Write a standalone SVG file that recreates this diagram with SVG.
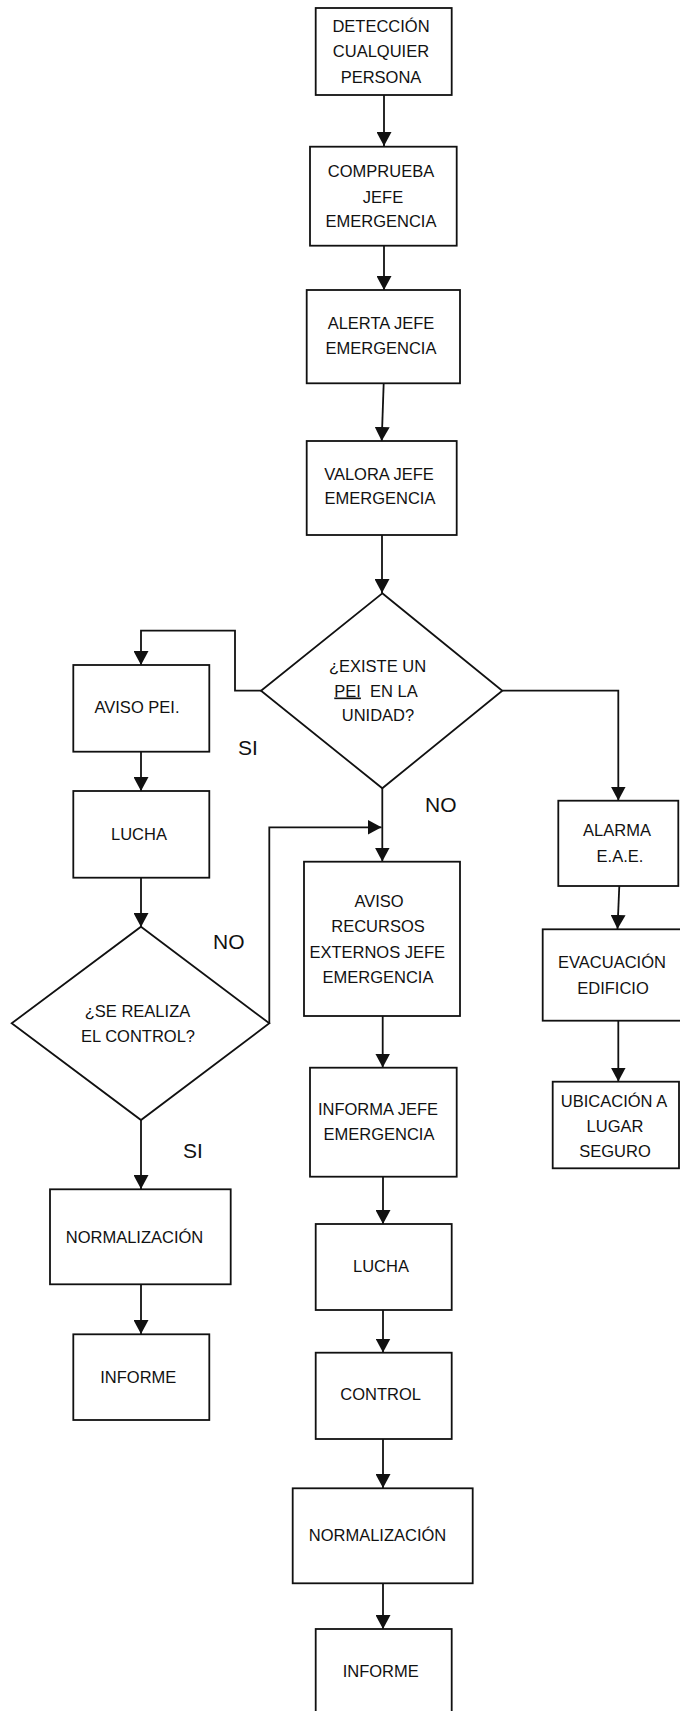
<svg xmlns="http://www.w3.org/2000/svg" width="680" height="1711" viewBox="0 0 680 1711">
<style>
.box{fill:#fff;stroke:#111;stroke-width:1.8}
.t{font-family:"Liberation Sans",Arial,sans-serif;font-size:16.5px;fill:#111;text-anchor:middle}
.lbl{font-family:"Liberation Sans",Arial,sans-serif;font-size:21px;fill:#111}
.c{fill:none;stroke:#111;stroke-width:1.8}
</style>
<defs>
<marker id="ah" markerUnits="userSpaceOnUse" markerWidth="15" markerHeight="15" refX="14" refY="7.5" orient="auto">
<path d="M0,0 L14,7.5 L0,15 z" fill="#111"/>
</marker>
</defs>
<rect width="680" height="1711" fill="#fff"/>
<g id="connectors">
<path class="c" d="M384,95 V146" marker-end="url(#ah)"/>
<path class="c" d="M384,246 V290" marker-end="url(#ah)"/>
<path class="c" d="M383.7,383 L381.7,441" marker-end="url(#ah)"/>
<path class="c" d="M382,535 V593" marker-end="url(#ah)"/>
<path class="c" d="M261,690.7 H235 V630.7 H141 V665" marker-end="url(#ah)"/>
<path class="c" d="M141,752 V791" marker-end="url(#ah)"/>
<path class="c" d="M141,878 V927" marker-end="url(#ah)"/>
<path class="c" d="M141,1120 V1189" marker-end="url(#ah)"/>
<path class="c" d="M141,1284 V1334" marker-end="url(#ah)"/>
<path class="c" d="M382.3,788 V861.5" marker-end="url(#ah)"/>
<path class="c" d="M269.3,1023.3 V827.3 H381.5" marker-end="url(#ah)"/>
<path class="c" d="M502.3,690.7 H618.3 V800.5" marker-end="url(#ah)"/>
<path class="c" d="M619.3,886 L617.5,929" marker-end="url(#ah)"/>
<path class="c" d="M618.3,1021 V1081.5" marker-end="url(#ah)"/>
<path class="c" d="M382.7,1016 V1067.5" marker-end="url(#ah)"/>
<path class="c" d="M383,1176.7 V1224" marker-end="url(#ah)"/>
<path class="c" d="M383,1310 V1352.5" marker-end="url(#ah)"/>
<path class="c" d="M383,1439 V1488" marker-end="url(#ah)"/>
<path class="c" d="M383,1583 V1629" marker-end="url(#ah)"/>
</g>
<g id="n-deteccion">
<rect class="box" x="315.7" y="8" width="136" height="87"/>
<text class="t" x="381" y="32">DETECCIÓN</text>
<text class="t" x="381" y="57">CUALQUIER</text>
<text class="t" x="381" y="83">PERSONA</text>
</g>
<g id="n-comprueba">
<rect class="box" x="310" y="146.7" width="146.7" height="99"/>
<text class="t" x="381" y="177">COMPRUEBA</text>
<text class="t" x="383" y="203">JEFE</text>
<text class="t" x="381" y="227">EMERGENCIA</text>
</g>
<g id="n-alerta">
<rect class="box" x="306.7" y="290" width="153.3" height="93.3"/>
<text class="t" x="381" y="329">ALERTA JEFE</text>
<text class="t" x="381" y="354">EMERGENCIA</text>
</g>
<g id="n-valora">
<rect class="box" x="306.7" y="441" width="150" height="94"/>
<text class="t" x="379" y="480">VALORA JEFE</text>
<text class="t" x="380" y="504">EMERGENCIA</text>
</g>
<g id="n-existe">
<polygon class="box" points="382.3,593.3 502.3,690.7 382.3,788.3 261,690.7"/>
<text class="t" x="377.5" y="672">¿EXISTE UN</text>
<text class="t" x="376" y="696.5" xml:space="preserve"><tspan text-decoration="underline">PEI</tspan>  EN LA</text>
<text class="t" x="378" y="721">UNIDAD?</text>
</g>
<g id="n-aviso-pei">
<rect class="box" x="73.3" y="665" width="136" height="86.7"/>
<text class="t" x="137" y="713">AVISO PEI.</text>
</g>
<g id="n-lucha-1">
<rect class="box" x="73.3" y="791" width="136" height="86.7"/>
<text class="t" x="139" y="840">LUCHA</text>
</g>
<g id="n-control-q">
<polygon class="box" points="141,926.7 269.3,1023.3 141,1120 11.7,1023.3"/>
<text class="t" x="137.5" y="1017">¿SE REALIZA</text>
<text class="t" x="138" y="1042">EL CONTROL?</text>
</g>
<g id="n-normalizacion-1">
<rect class="box" x="50" y="1189.3" width="180.7" height="95"/>
<text class="t" x="134.5" y="1243">NORMALIZACIÓN</text>
</g>
<g id="n-informe-1">
<rect class="box" x="73.3" y="1334.3" width="136" height="85.7"/>
<text class="t" x="138.3" y="1383">INFORME</text>
</g>
<g id="n-aviso-recursos">
<rect class="box" x="304" y="861.7" width="156" height="154.3"/>
<text class="t" x="379" y="907">AVISO</text>
<text class="t" x="378" y="932">RECURSOS</text>
<text class="t" x="377.3" y="958">EXTERNOS JEFE</text>
<text class="t" x="378" y="983">EMERGENCIA</text>
</g>
<g id="n-informa">
<rect class="box" x="310" y="1067.7" width="146.7" height="109"/>
<text class="t" x="378" y="1115">INFORMA JEFE</text>
<text class="t" x="379" y="1140">EMERGENCIA</text>
</g>
<g id="n-lucha-2">
<rect class="box" x="315.7" y="1224" width="136" height="86"/>
<text class="t" x="381" y="1272">LUCHA</text>
</g>
<g id="n-control">
<rect class="box" x="315.7" y="1352.7" width="136" height="86.3"/>
<text class="t" x="380.7" y="1400">CONTROL</text>
</g>
<g id="n-normalizacion-2">
<rect class="box" x="292.7" y="1488.3" width="180" height="95"/>
<text class="t" x="377.5" y="1541">NORMALIZACIÓN</text>
</g>
<g id="n-informe-2">
<rect class="box" x="315.7" y="1629" width="136" height="95"/>
<text class="t" x="380.7" y="1677">INFORME</text>
</g>
<g id="n-alarma">
<rect class="box" x="558.3" y="800.7" width="120" height="85.3"/>
<text class="t" x="617" y="836">ALARMA</text>
<text class="t" x="620" y="862">E.A.E.</text>
</g>
<g id="n-evacuacion">
<rect class="box" x="542.7" y="929.3" width="140" height="91.4"/>
<text class="t" x="612" y="968">EVACUACIÓN</text>
<text class="t" x="613" y="994">EDIFICIO</text>
</g>
<g id="n-ubicacion">
<rect class="box" x="552.7" y="1081.7" width="126.3" height="86.6"/>
<text class="t" x="614" y="1107">UBICACIÓN A</text>
<text class="t" x="615" y="1132">LUGAR</text>
<text class="t" x="615" y="1157">SEGURO</text>
</g>
<g id="labels">
<text class="lbl" x="238" y="755">SI</text>
<text class="lbl" x="425" y="812">NO</text>
<text class="lbl" x="213" y="949">NO</text>
<text class="lbl" x="183" y="1158">SI</text>
</g>
</svg>
